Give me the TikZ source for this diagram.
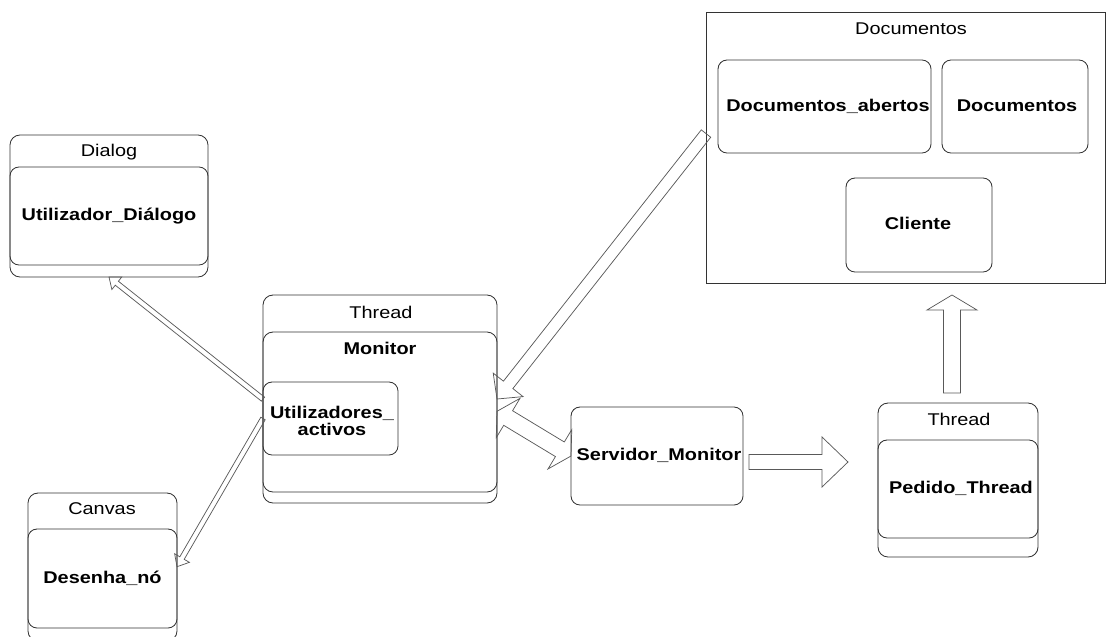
\documentclass[tikz,border=0pt]{standalone}
\usepackage{fontspec}
\setmainfont{Liberation Sans}[FakeStretch=1.17]
\usetikzlibrary{calc}

% lengths given in screen pixels
\newcommand\pxl[1]{#1*0.75pt}
\newcommand\diagfont{\fontsize{12.75}{13}\selectfont}

% hollow block arrow: [style]{tail}{tip}{shaft half width}{head half width}{head length}
\newcommand\blockarrow[6][]{%
  \coordinate (ba-hb) at ($(#3)!#6!(#2)$);
  \draw[arrowline,#1]
    ($(#2)!#4!90:(#3)$) -- ($(ba-hb)!#4!90:(#3)$) -- ($(ba-hb)!#5!90:(#3)$) -- (#3)
    -- ($(ba-hb)!#5!-90:(#3)$) -- ($(ba-hb)!#4!-90:(#3)$) -- ($(#2)!#4!-90:(#3)$) -- cycle;
}
% the same with a head at both ends
\newcommand\dblockarrow[6][]{%
  \coordinate (ba-ha) at ($(#2)!#6!(#3)$);
  \coordinate (ba-hb) at ($(#3)!#6!(#2)$);
  \draw[arrowline,#1]
    (#2) -- ($(ba-ha)!#5!90:(#3)$) -- ($(ba-ha)!#4!90:(#3)$)
    -- ($(ba-hb)!#4!90:(#3)$) -- ($(ba-hb)!#5!90:(#3)$) -- (#3)
    -- ($(ba-hb)!#5!-90:(#3)$) -- ($(ba-hb)!#4!-90:(#3)$)
    -- ($(ba-ha)!#4!-90:(#3)$) -- ($(ba-ha)!#5!-90:(#3)$) -- cycle;
}

\tikzset{
  outerbox/.style={draw=black!80, line width=0.65pt, rounded corners=\pxl{10}, inner sep=0pt, outer sep=0pt},
  innerbox/.style={draw=black!80, line width=0.65pt, rounded corners=\pxl{9}, inner sep=0pt, outer sep=0pt, font=\diagfont\bfseries},
  plainbox/.style={draw=black!80, line width=0.65pt, inner sep=0pt, outer sep=0pt},
  title/.style={inner sep=0pt, font=\diagfont},
  boldtext/.style={inner sep=0pt, font=\diagfont\bfseries},
  arrowline/.style={draw=black!65, line width=0.55pt, line join=miter},
}

\begin{document}
\begin{tikzpicture}[x=0.75pt, y=-0.75pt, font=\diagfont]
\useasboundingbox (0,0) rectangle (1106,636);
\clip (0,0) rectangle (1106,636);

% Dialog
\node[outerbox, minimum width=\pxl{198}, minimum height=\pxl{142}] (dlgo) at (109,206) {};
\node[innerbox, minimum width=\pxl{198}, minimum height=\pxl{98}] (dlgi) at (109,216) {Utilizador\_Diálogo};
\node[title] (dlgt) at (109,152) {Dialog};

% Canvas
\node[outerbox, minimum width=\pxl{149}, minimum height=\pxl{148}] (cvo) at (102.5,567) {};
\node[innerbox, minimum width=\pxl{149}, minimum height=\pxl{99}] (cvi) at (102.5,578.5) {Desenha\_nó};
\node[title] (cvt) at (102,509) {Canvas};

% Thread / Monitor
\node[outerbox, minimum width=\pxl{234}, minimum height=\pxl{208}] (mono) at (380,399) {};
\node[outerbox, minimum width=\pxl{234}, minimum height=\pxl{160}] (moni) at (380,412) {};
\node[title] (mont) at (381,312) {Thread};
\node[boldtext] (monn) at (380,348) {Monitor};
\node[innerbox, minimum width=\pxl{135}, minimum height=\pxl{73}] (ua) at (330.5,418.5) {};
\node[boldtext, align=center] (uat) at (332,421) {Utilizadores\_\\activos};

% Servidor_Monitor
\node[innerbox, minimum width=\pxl{172}, minimum height=\pxl{98}] (srv) at (657,456) {};
\node[boldtext] (srvt) at (659,455) {Servidor\_Monitor};

% Thread / Pedido_Thread
\node[outerbox, minimum width=\pxl{160}, minimum height=\pxl{154}] (pdo) at (958,480) {};
\node[innerbox, minimum width=\pxl{160}, minimum height=\pxl{98}] (pdi) at (958,489) {};
\node[boldtext] (pdit) at (961,488) {Pedido\_Thread};
\node[title] (pdt) at (959,419) {Thread};

% Documentos
\node[plainbox, minimum width=\pxl{399}, minimum height=\pxl{271}] (docs) at (905.5,147.5) {};
\node[title] (docst) at (911,29) {Documentos};
\node[innerbox, minimum width=\pxl{213}, minimum height=\pxl{93}] (dab) at (824.5,106.5) {};
\node[boldtext] (dabt) at (828,106) {Documentos\_abertos};
\node[innerbox, minimum width=\pxl{146}, minimum height=\pxl{93}] (ddoc) at (1015,106.5) {};
\node[boldtext] (ddoct) at (1017,106) {Documentos};
\node[innerbox, minimum width=\pxl{146}, minimum height=\pxl{94}] (cli) at (919,225) {};
\node[boldtext] (clit) at (918,223) {Cliente};

% connectors
\blockarrow{ua.164}{dlgo.south}{1.9pt}{6pt}{7.5pt}
\blockarrow{ua.west}{cvi.9}{1.9pt}{6.4pt}{7.5pt}
\blockarrow{docs.176.5}{mono.east}{4.5pt}{14.25pt}{13.5pt}
\dblockarrow{mono.-6}{srv.west}{6.4pt}{17.25pt}{9.75pt}
\coordinate (rt) at ($(srv.east)+(6,6)$);
\coordinate (rh) at ($(pdo.west)+(-30,-18)$);
\blockarrow{rt}{rh}{5.6pt}{18.75pt}{19.5pt}
\coordinate (ut) at ($(pdo.north)+(-6,-10)$);
\coordinate (uh) at ($(docs.south)+(46.5,12)$);
\blockarrow{ut}{uh}{6.4pt}{18.75pt}{11.25pt}
\end{tikzpicture}
\end{document}
